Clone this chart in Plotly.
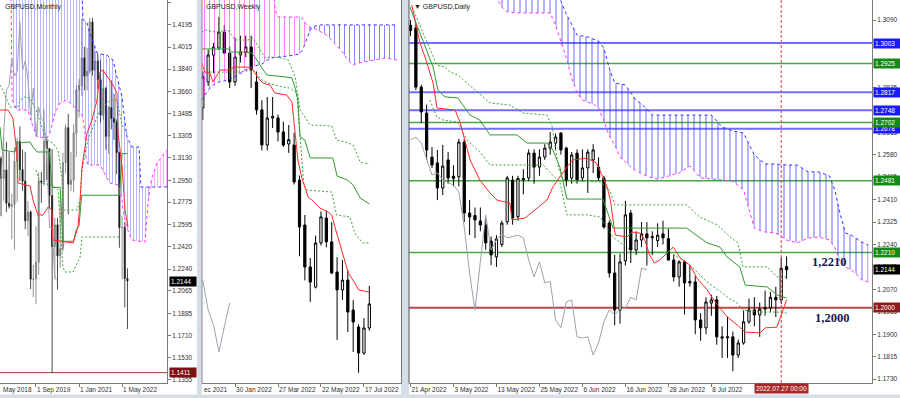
import numpy as np
import plotly.graph_objects as go

# ======================= DATA =======================
# ---- Monthly panel (x = month offset from Sep 2019) ----
mon_x = list(range(-14, 35))
mon_open = [1.3200,1.3125,1.2965,1.3033,1.2766,1.2743,1.2756,1.3102,1.3261,1.3035,1.2943,1.2626,1.2696,1.2159,
            1.2160,1.2293,1.2945,1.2936,1.3261,1.3203,1.2827,1.2420,1.2594,1.2345,1.2403,1.3091,1.3371,1.2918,
            1.2950,1.3327,1.3672,1.3707,1.3929,1.3784,1.3821,1.4216,1.3830,1.3904,1.3755,1.3471,1.3685,1.3301,
            1.3532,1.3445,1.3415,1.3172,1.2572,1.2574,1.2165]
mon_high = [1.3363,1.3140,1.3298,1.3258,1.3175,1.2840,1.3215,1.3287,1.3381,1.3196,1.3177,1.2783,1.2709,1.2273,
            1.2582,1.3013,1.3015,1.3515,1.3285,1.3210,1.3200,1.2648,1.2648,1.2813,1.3170,1.3395,1.3482,1.3177,
            1.3398,1.3704,1.3759,1.4241,1.4017,1.4009,1.4250,1.4249,1.3984,1.3958,1.3913,1.3834,1.3698,1.3546,
            1.3749,1.3643,1.3437,1.3180,1.2666,1.2617,1.2246]
mon_low = [1.2958,1.2662,1.2786,1.2696,1.2723,1.2477,1.2395,1.2773,1.2945,1.2866,1.2559,1.2506,1.2080,1.2015,
           1.1958,1.2194,1.2769,1.2905,1.2953,1.2725,1.1409,1.2165,1.2076,1.2252,1.2380,1.3005,1.2676,1.2862,
           1.2855,1.3135,1.3451,1.3622,1.3670,1.3668,1.3800,1.3787,1.3572,1.3680,1.3411,1.3434,1.3194,1.3161,
           1.3358,1.3272,1.3000,1.2410,1.2155,1.1933,1.1760]
mon_close = [1.3125,1.2965,1.3033,1.2766,1.2743,1.2756,1.3102,1.3261,1.3035,1.2943,1.2626,1.2696,1.2159,1.2160,
             1.2293,1.2945,1.2936,1.3261,1.3203,1.2827,1.2420,1.2594,1.2345,1.2403,1.3091,1.3371,1.2918,1.2950,
             1.3327,1.3672,1.3707,1.3929,1.3784,1.3821,1.4216,1.3830,1.3904,1.3755,1.3471,1.3685,1.3301,1.3532,
             1.3445,1.3415,1.3172,1.2572,1.2574,1.2165,1.2144]
mon_tenkan_x = [-13.4,-10.4,-8.6,-7.1,-6.7,-2.2,-1.1,0.7,2.6,4.5,5.9,6.3,13.8,15.6,16.4,17.1,19.0,20.8,22.7,23.8,24.9,28.6,30.1,30.5,32.0,33.1,34.2]
mon_tenkan_y = [1.3512,1.3512,1.3448,1.3168,1.2928,1.2904,1.2792,1.2672,1.2672,1.2736,1.2712,1.2472,1.2448,1.2576,1.2792,1.3056,1.3328,1.3432,1.3592,1.3816,1.3832,1.3712,1.3648,1.3328,1.3056,1.2712,1.2576]
mon_kijun_x = [-13.4,-12.6,-7.8,-7.1,-2.2,-1.1,0.4,5.0,6.0,9.0,10.0,14.0,15.0,16.0,17.0,31.0,32.0,34.0]
mon_kijun_y = [1.3376,1.3192,1.3176,1.3248,1.3256,1.3216,1.3176,1.3176,1.2893,1.2893,1.2462,1.2462,1.2557,1.2584,1.2830,1.2830,1.3163,1.3163]
mon_dash1_x = [-13.4,-12.3,-9.7,-6.7,-5.9,-4.1,-2.2,0,2.2,4.1,6.3,8.2,9.7,10.0,15.2,16.4,17.1,19.3,23.8,27.5,30.1,32.0,34.2]
mon_dash1_y = [1.3712,1.3672,1.3536,1.3536,1.3592,1.3616,1.3608,1.3512,1.3376,1.3272,1.3248,1.3192,1.2952,1.2712,1.2712,1.2792,1.3032,1.3272,1.3512,1.3592,1.3592,1.3392,1.3312]
mon_dash2_x = [0,1.5,5.9,8.2,9.7,10.0,10.8,13.8,16.4,17.1,31.2]
mon_dash2_y = [1.3032,1.2928,1.2912,1.2872,1.2368,1.2256,1.2216,1.2216,1.2336,1.2496,1.2496]
mon_chikou_x = list(range(-14, 9))
mon_chikou_y = [1.2918,1.2950,1.3327,1.3672,1.3707,1.3929,1.3784,1.3821,1.4216,1.3830,1.3904,1.3755,1.3471,
                1.3685,1.3301,1.3532,1.3445,1.3415,1.3172,1.2572,1.2574,1.2165,1.2144]
mon_cloud_x = [-9.3,-8.9,-7.1,-3.0,-1.1,0.4,4.1,5.2,7.1,8.9,11.5,12.6,15.2,16.4,17.1,17.5,18.2,18.6,19.0,19.3,
               22.7,23.8,26.4,27.5,28.6,30.1,30.5,32.0,32.3,33.1,33.8,35.7,38.3,39.0,40.5,41.6,42.4,43.1,45.0,48.7]
mon_span_a = [1.4552,1.3592,1.3512,1.3512,1.3376,1.3296,1.3288,1.3328,1.3488,1.3568,1.3592,1.3568,1.3512,1.3496,
              1.3472,1.3432,1.3328,1.3136,1.3096,1.3072,1.3072,1.3072,1.2968,1.2928,1.2920,1.2912,1.2912,1.2792,
              1.2712,1.2632,1.2568,1.2472,1.2464,1.2464,1.2456,1.2752,1.2896,1.2968,1.3088,1.3192]
mon_span_b = [1.4552,1.4552,1.4552,1.4552,1.4552,1.4552,1.4552,1.4552,1.4552,1.4552,1.4552,1.4552,1.4552,1.4552,
              1.4432,1.4232,1.4224,1.4216,1.4208,1.4176,1.3968,1.3960,1.3952,1.3928,1.3912,1.3776,1.3744,1.3616,
              1.3552,1.3392,1.3296,1.3216,1.3216,1.2896,1.2896,1.2896,1.2896,1.2896,1.2896,1.2896]
mon_xticks = [0, 16, 32]
mon_xlabels = ["1 Sep 2019", "1 Jan 2021", "1 May 2022"]
mon_yticks = [1.4370,1.4195,1.4015,1.3840,1.3660,1.3485,1.3305,1.3130,1.2950,1.2775,1.2595,1.2420,
              1.2240,1.2065,1.1885,1.1710,1.1530,1.1355]
mon_level = 1.1411
mon_last = 1.2144

# ---- Weekly panel (x = week offset from 30 Jan 2022) ----
wk_x = list(range(-6, 26))
wk_open = [1.3237,1.3382,1.3532,1.3572,1.3660,1.3543,1.3382,1.3532,1.3549,1.3577,1.3382,1.3226,1.3030,1.3181,
           1.3181,1.3103,1.3036,1.3030,1.2835,1.2584,1.2350,1.2238,1.2484,1.2623,1.2490,1.2322,1.2222,1.2277,
           1.2110,1.2015,1.1870,1.2010]
wk_high = [1.3440,1.3560,1.3600,1.3744,1.3700,1.3580,1.3630,1.3640,1.3640,1.3640,1.3440,1.3280,1.3298,1.3298,
           1.3200,1.3160,1.3142,1.3100,1.2860,1.2640,1.2400,1.2525,1.2660,1.2665,1.2600,1.2405,1.2389,1.2330,
           1.2165,1.2030,1.2065,1.2245]
wk_low = [1.3170,1.3360,1.3430,1.3560,1.3540,1.3348,1.3360,1.3490,1.3520,1.3348,1.3200,1.3000,1.3000,1.3125,
          1.3050,1.3020,1.2986,1.2810,1.2410,1.2275,1.2155,1.2230,1.2470,1.2460,1.2310,1.1943,1.2166,1.1987,
          1.1876,1.1760,1.1860,1.1995]
wk_close = [1.3410,1.3532,1.3577,1.3660,1.3543,1.3382,1.3521,1.3549,1.3577,1.3449,1.3226,1.3030,1.3181,1.3190,
            1.3103,1.3030,1.3060,1.2824,1.2573,1.2350,1.2266,1.2484,1.2629,1.2490,1.2316,1.2222,1.2277,1.2099,
            1.2043,1.1870,1.2010,1.2144]
wk_tenkan_x = [-6.2,-5.6,-4.7,-4.1,-2.8,-1.3,0,1.9,3.1,4.3,5.2,6.5,7.4,9.6,10.6,10.8,11.2,11.7,12.4,13.6,14.3,15.8,17.3,18.0,18.6,19.9,21.1,22.3,23.0,25.0]
wk_tenkan_y = [1.3488,1.3437,1.3432,1.3382,1.3449,1.3449,1.3465,1.3465,1.3460,1.3404,1.3376,1.3365,1.3320,1.3309,1.3270,1.3209,1.3075,1.2947,1.2852,1.2740,1.2724,1.2679,1.2657,1.2640,1.2573,1.2445,1.2316,1.2261,1.2222,1.2210]
wk_kijun_x = [-6.2,-1.3,-0.6,1.9,3.1,3.7,5.0,5.9,9.3,10.6,11.2,11.7,12.1,13.0,14.0,18.2,19.0,20.9,22.0,23.3,25.0]
wk_kijun_y = [1.3566,1.3566,1.3549,1.3549,1.3543,1.3521,1.3460,1.3421,1.3410,1.3404,1.3348,1.3281,1.3075,1.3058,1.2958,1.2958,1.2857,1.2835,1.2807,1.2735,1.2701]
wk_dash1_x = [-6.2,-5.6,-3.7,-1.3,0,2.4,3.4,5.6,6.5,8.7,9.9,11.2,12.1,14.0,18.0,18.9,20.5,22.0,23.3,25.0]
wk_dash1_y = [1.3660,1.3672,1.3660,1.3672,1.3616,1.3616,1.3627,1.3516,1.3521,1.3516,1.3504,1.3410,1.3226,1.3142,1.3136,1.3058,1.3047,1.3030,1.2935,1.2924]
wk_dash2_x = [-6.2,0.6,3.4,5.0,6.1,8.8,10.2,11.5,12.3,12.8,13.4,18.0,18.9,21.4,22.3,23.8,25.0]
wk_dash2_y = [1.3437,1.3437,1.3449,1.3393,1.3376,1.3354,1.3348,1.3320,1.3002,1.2807,1.2779,1.2768,1.2640,1.2629,1.2539,1.2484,1.2484]
wk_chikou_x = [-6, -5, -4, -3, -2, -1]
wk_chikou_y = [1.2277, 1.2110, 1.2026, 1.1876, 1.2015, 1.2149]
wk_cloud_x = [-6.2,-5,-4,-3,-2,-1,0,2,3,5,6,7,7.5,8,10,12,12.5,13.5,14.2,15,16,17,18,20,21,22,23,24,26,28,30.3]
wk_span_a = [1.3951,1.3951,1.3951,1.3951,1.3951,1.3951,1.3951,1.3951,1.3951,1.3951,1.3951,1.3951,1.3780,1.3744,
             1.3744,1.3744,1.3739,1.3694,1.3683,1.3677,1.3661,1.3644,1.3616,1.3549,1.3504,1.3477,1.3488,1.3493,
             1.3504,1.3516,1.3504]
wk_span_b = [1.3281,1.3337,1.3365,1.3382,1.3387,1.3398,1.3410,1.3449,1.3465,1.3482,1.3504,1.3516,1.3521,1.3521,
             1.3527,1.3538,1.3555,1.3633,1.3683,1.3694,1.3700,1.3700,1.3700,1.3700,1.3700,1.3700,1.3700,1.3700,
             1.3700,1.3700,1.3700]
wk_xticks = [0, 8, 16, 24]
wk_xlabels = ["30 Jan 2022", "27 Mar 2022", "22 May 2022", "17 Jul 2022"]

# ---- Daily panel (x = trading-day index from 21 Apr 2022) ----
d_x = list(range(0, 71))
d_ohlc = [
    (1.3070,1.3090,1.3030,1.3050),(1.3060,1.3075,1.2825,1.2836),(1.2836,1.2845,1.2700,1.2742),(1.2738,1.2770,1.2560,1.2598),
    (1.2571,1.2609,1.2530,1.2541),(1.2549,1.2598,1.2408,1.2454),(1.2454,1.2617,1.2427,1.2537),(1.2560,1.2590,1.2470,1.2492),
    (1.2499,1.2540,1.2460,1.2490),(1.2496,1.2640,1.2460,1.2628),(1.2628,1.2640,1.2325,1.2359),(1.2359,1.2408,1.2276,1.2344),
    (1.2350,1.2380,1.2264,1.2333),(1.2329,1.2380,1.2290,1.2314),(1.2314,1.2340,1.2220,1.2246),(1.2253,1.2270,1.2162,1.2200),
    (1.2193,1.2275,1.2155,1.2261),(1.2240,1.2330,1.2230,1.2321),(1.2326,1.2500,1.2315,1.2492),(1.2484,1.2500,1.2315,1.2340),
    (1.2345,1.2500,1.2330,1.2490),(1.2490,1.2525,1.2430,1.2485),(1.2492,1.2600,1.2480,1.2586),(1.2586,1.2600,1.2470,1.2533),
    (1.2533,1.2600,1.2500,1.2571),(1.2571,1.2620,1.2560,1.2605),(1.2605,1.2666,1.2580,1.2628),(1.2624,1.2660,1.2600,1.2647),
    (1.2662,1.2665,1.2580,1.2598),(1.2605,1.2610,1.2460,1.2484),(1.2492,1.2590,1.2470,1.2579),(1.2586,1.2600,1.2470,1.2484),
    (1.2492,1.2600,1.2480,1.2530),(1.2530,1.2600,1.2435,1.2590),(1.2560,1.2620,1.2510,1.2598),(1.2533,1.2570,1.2480,1.2492),
    (1.2492,1.2500,1.2300,1.2306),(1.2321,1.2330,1.2115,1.2132),(1.2132,1.2200,1.1934,1.1992),(1.1992,1.2205,1.1940,1.2174),
    (1.2178,1.2405,1.2160,1.2352),(1.2359,1.2370,1.2170,1.2219),(1.2219,1.2290,1.2200,1.2257),(1.2257,1.2325,1.2230,1.2280),
    (1.2280,1.2325,1.2160,1.2265),(1.2265,1.2290,1.2200,1.2270),(1.2255,1.2320,1.2230,1.2275),(1.2280,1.2330,1.2240,1.2265),
    (1.2262,1.2300,1.2180,1.2181),(1.2181,1.2200,1.2100,1.2117),(1.2117,1.2180,1.2080,1.2174),(1.2174,1.2180,1.1975,1.2094),
    (1.2094,1.2160,1.2080,1.2100),(1.2098,1.2120,1.1900,1.1954),(1.1954,1.1980,1.1875,1.1924),(1.1924,1.2040,1.1900,1.2022),
    (1.2018,1.2050,1.1970,1.2030),(1.2030,1.2045,1.1860,1.1890),(1.1890,1.1930,1.1810,1.1886),(1.1886,1.1966,1.1810,1.1890),
    (1.1890,1.1910,1.1760,1.1821),(1.1821,1.1880,1.1810,1.1867),(1.1867,1.1990,1.1860,1.1947),(1.1947,1.2035,1.1940,1.1992),
    (1.1992,1.2040,1.1930,1.1973),(1.1973,1.2020,1.1890,1.1995),(1.1995,1.2065,1.1970,1.2000),(1.2000,1.2060,1.1985,1.2040),
    (1.2040,1.2080,1.1965,1.2030),(1.2030,1.2190,1.2015,1.2150),(1.2156,1.2195,1.2110,1.2144)]
d_open = [r[0] for r in d_ohlc]
d_high = [r[1] for r in d_ohlc]
d_low = [r[2] for r in d_ohlc]
d_close = [r[3] for r in d_ohlc]
d_tenkan_x = [0.22,1.77,2.7,4.2,4.93,8.3,9.2,10.1,11.1,12.9,14.8,16.1,18.5,18.9,21.3,25.4,26.5,29.1,30.2,32.8,34.6,35.8,36.6,37.2,38.1,40.3,41.2,42.7,43.6,44.5,45.4,46.4,47.7,48.9,50.2,52.0,53.3,55.2,57.1,59.0,60.8,62.3,65.1,66.0,68.2,69.1,70.0]
d_tenkan_y = [1.3147,1.3003,1.2950,1.2852,1.2757,1.2749,1.2704,1.2636,1.2560,1.2484,1.2435,1.2408,1.2397,1.2333,1.2340,1.2408,1.2458,1.2533,1.2560,1.2567,1.2549,1.2496,1.2458,1.2408,1.2276,1.2268,1.2287,1.2283,1.2257,1.2200,1.2170,1.2181,1.2208,1.2230,1.2189,1.2162,1.2113,1.2068,1.2011,1.1965,1.1935,1.1908,1.1905,1.1924,1.1927,1.1980,1.2030]
d_kijun_x = [-0.1,4.2,5.1,6.4,8.8,11.1,12.9,14.8,19.8,21.7,25.4,26.5,27.8,28.8,29.1,35.8,37.7,51.4,55.2,57.6,58.9,61.3,62.3,66.4,68.2,70.0]
d_kijun_y = [1.3139,1.2912,1.2825,1.2799,1.2795,1.2730,1.2711,1.2655,1.2655,1.2624,1.2624,1.2598,1.2533,1.2446,1.2412,1.2412,1.2302,1.2302,1.2246,1.2230,1.2193,1.2155,1.2086,1.2079,1.2049,1.2037]
d_dash1_x = [0.3,2.3,4.9,6.4,7.4,8.8,12.4,14.8,18.5,21.0,25.4,26.4,27.5,28.4,35.3,37.1,38.0,51.4,53.8,57.1,59.5,60.9,61.9,66.4,68.2,70.0]
d_dash1_y = [1.3139,1.3041,1.2920,1.2912,1.2893,1.2882,1.2818,1.2776,1.2768,1.2738,1.2730,1.2685,1.2533,1.2484,1.2477,1.2446,1.2390,1.2390,1.2344,1.2314,1.2268,1.2246,1.2155,1.2155,1.2117,1.2117]
d_dash2_x = [3.6,4.9,6.1,8.8,10.5,12.9,14.8,24.7,26.4,27.8,29.1,32.8,35.3,37.7,41.4,48.3,52.0,55.2,59.0,60.8,61.9,65.1,68.2,70.0]
d_dash2_y = [1.2787,1.2723,1.2711,1.2704,1.2636,1.2590,1.2541,1.2541,1.2503,1.2477,1.2352,1.2352,1.2344,1.2268,1.2211,1.2211,1.2162,1.2098,1.2041,1.2018,1.1992,1.1984,1.1984,1.1980]
d_chikou_x = list(range(0, 45))
d_chikou_y = [1.2636,1.2647,1.2624,1.2560,1.2503,1.2511,1.2484,1.2475,1.2465,1.2439,1.2306,1.2132,1.1992,1.2174,
              1.2352,1.2219,1.2257,1.2280,1.2265,1.2270,1.2275,1.2265,1.2181,1.2117,1.2174,1.2094,1.2100,1.1954,
              1.1924,1.2022,1.2030,1.1890,1.1886,1.1890,1.1821,1.1867,1.1947,1.1992,1.1973,1.1995,1.2000,1.2040,
              1.2030,1.2150,1.2144]
d_cloud_x = [15,16,17,18,20,22,24,25,26,27,28,29,30,31,32,33,34,35,36,37,38,39,40,41,42,43,44,45,46,48,50,52,
             54,56,58,60,62,64,66,68,70,72,74,76,78,79,80,81,82,83,84,85.2]
d_span_a = [1.3223,1.3177,1.3139,1.3121,1.3117,1.3117,1.3117,1.3117,1.3117,1.3071,1.3007,1.2946,1.2871,1.2814,
            1.2787,1.2780,1.2772,1.2757,1.2708,1.2651,1.2617,1.2571,1.2552,1.2533,1.2518,1.2507,1.2499,1.2492,
            1.2488,1.2499,1.2511,1.2537,1.2492,1.2488,1.2484,1.2480,1.2446,1.2302,1.2287,1.2283,1.2257,1.2246,
            1.2264,1.2268,1.2257,1.2227,1.2174,1.2155,1.2143,1.2128,1.2105,1.2098]
d_span_b = [1.3250,1.3250,1.3250,1.3250,1.3250,1.3250,1.3250,1.3250,1.3250,1.3200,1.3162,1.3113,1.3071,1.3033,
            1.3030,1.3026,1.3018,1.3011,1.2984,1.2908,1.2852,1.2848,1.2844,1.2814,1.2787,1.2772,1.2753,1.2730,
            1.2730,1.2730,1.2730,1.2730,1.2730,1.2730,1.2685,1.2670,1.2662,1.2579,1.2545,1.2545,1.2541,1.2541,
            1.2515,1.2515,1.2499,1.2446,1.2352,1.2283,1.2276,1.2261,1.2249,1.2238]
d_xticks = [0, 8, 16, 24, 32, 40, 48, 56]
d_xlabels = ["21 Apr 2022", "3 May 2022", "13 May 2022", "25 May 2022", "6 Jun 2022", "16 Jun 2022",
             "28 Jun 2022", "8 Jul 2022"]
d_yticks = [1.3090,1.2835,1.2665,1.2580,1.2495,1.2410,1.2325,1.2240,1.2155,1.2070,
            1.1985,1.1900,1.1815,1.1730]
d_levels_blue = [1.3003, 1.2817, 1.2748, 1.2678]
d_levels_green = [1.2925, 1.2702, 1.2481, 1.2210]
d_level_red = 1.2000
d_last = 1.2144
d_cursor_x = 69
d_cursor_label = "2022.07.27 00:00"
big_labels = [("1,2210", 1.2210), ("1,2000", 1.2000)]

# ======================= FIGURE =======================
FW, FH = 900, 398
def PX(x):
    return x / FW
def PY(y):
    return 1 - y / FH

Y_DOM = [PY(383), 1.0]
FONT = "Liberation Sans, Arial, sans-serif"
AX_FONT = dict(family=FONT, size=6.5, color="#303030")

BLUE = "#2f2fff"
MAG = "#ff30ff"
RED = "#ff2a2a"
GREEN = "#2f9a2f"
DGREEN = "#3aa33a"
GREY = "#9ca3ad"

fig = go.Figure()


def add_cloud(xs, a, b, xa, ya, size):
    a = np.asarray(a, float)
    b = np.asarray(b, float)
    lo = np.minimum(a, b)
    common = dict(xaxis=xa, yaxis=ya, mode="lines", hoverinfo="skip", showlegend=False)
    fig.add_trace(go.Scatter(x=xs, y=lo, line=dict(width=0, color="rgba(0,0,0,0)"), **common))
    fig.add_trace(go.Scatter(x=xs, y=b, line=dict(width=0, color="rgba(0,0,0,0)"), fill="tonexty",
                             fillcolor="rgba(0,0,0,0)",
                             fillpattern=dict(shape="|", fgcolor=BLUE, size=size, solidity=0.2, fgopacity=0.6),
                             **common))
    fig.add_trace(go.Scatter(x=xs, y=lo, line=dict(width=0, color="rgba(0,0,0,0)"), **common))
    fig.add_trace(go.Scatter(x=xs, y=a, line=dict(width=0, color="rgba(0,0,0,0)"), fill="tonexty",
                             fillcolor="rgba(0,0,0,0)",
                             fillpattern=dict(shape="|", fgcolor=MAG, size=size, solidity=0.2, fgopacity=0.6),
                             **common))
    fig.add_trace(go.Scatter(x=xs, y=b, line=dict(width=1, color=BLUE, dash="dot"), **common))
    fig.add_trace(go.Scatter(x=xs, y=a, line=dict(width=1, color=MAG, dash="dot"), **common))


def add_line(x, y, xa, ya, color, dash=None, width=1):
    fig.add_trace(go.Scatter(x=x, y=y, xaxis=xa, yaxis=ya, mode="lines", hoverinfo="skip", showlegend=False,
                             line=dict(color=color, width=width, dash=dash)))


def add_candles(x, o, h, l, c, xa, ya, inc_fill, inc_line, dec_fill, dec_line, lw=1):
    fig.add_trace(go.Candlestick(x=x, open=o, high=h, low=l, close=c, xaxis=xa, yaxis=ya,
                                 increasing=dict(fillcolor=inc_fill, line=dict(color=inc_line, width=lw)),
                                 decreasing=dict(fillcolor=dec_fill, line=dict(color=dec_line, width=lw)),
                                 whiskerwidth=0, hoverinfo="skip", showlegend=False))


# ---- monthly ----
add_cloud(mon_cloud_x, mon_span_a, mon_span_b, "x", "y", 3)
add_line(mon_chikou_x, mon_chikou_y, "x", "y", GREY)
add_line(mon_dash1_x, mon_dash1_y, "x", "y", DGREEN, "2px,2px")
add_line(mon_dash2_x, mon_dash2_y, "x", "y", DGREEN, "2px,2px")
add_line(mon_kijun_x, mon_kijun_y, "x", "y", GREEN)
add_line(mon_tenkan_x, mon_tenkan_y, "x", "y", RED)
add_candles(mon_x, mon_open, mon_high, mon_low, mon_close, "x", "y", "#a0a0a0", "#777777", "#000000", "#202020", 0.8)

# ---- weekly ----
add_cloud(wk_cloud_x, wk_span_a, wk_span_b, "x2", "y2", 5)
add_line(wk_chikou_x, wk_chikou_y, "x2", "y2", GREY)
add_line(wk_dash1_x, wk_dash1_y, "x2", "y2", DGREEN, "2px,2px")
add_line(wk_dash2_x, wk_dash2_y, "x2", "y2", DGREEN, "2px,2px")
add_line(wk_kijun_x, wk_kijun_y, "x2", "y2", GREEN)
add_line(wk_tenkan_x, wk_tenkan_y, "x2", "y2", RED)
add_candles(wk_x, wk_open, wk_high, wk_low, wk_close, "x2", "y2", "#ffffff", "#000000", "#000000", "#000000")

# ---- daily ----
add_cloud(d_cloud_x, d_span_a, d_span_b, "x3", "y3", 6)
add_line(d_chikou_x, d_chikou_y, "x3", "y3", GREY)
add_line(d_dash1_x, d_dash1_y, "x3", "y3", DGREEN, "2px,2px")
add_line(d_dash2_x, d_dash2_y, "x3", "y3", DGREEN, "2px,2px")
add_line(d_kijun_x, d_kijun_y, "x3", "y3", GREEN)
add_line(d_tenkan_x, d_tenkan_y, "x3", "y3", RED)
add_candles(d_x, d_open, d_high, d_low, d_close, "x3", "y3", "#ffffff", "#000000", "#000000", "#000000")


def xax(domain, rng, anchor, tickvals, ticktext):
    return dict(domain=domain, range=rng, anchor=anchor, tickvals=tickvals, ticktext=ticktext,
                ticklabelposition="outside right", ticks="outside", ticklen=3, tickcolor="#777777",
                tickangle=0, automargin=False,
                showline=True, linecolor="#7a7a7a", linewidth=1, showgrid=False, zeroline=False,
                tickfont=AX_FONT, rangeslider=dict(visible=False), fixedrange=True)


def yax(rng, anchor, tickvals, labels=True):
    return dict(domain=Y_DOM, range=rng, anchor=anchor, side="right", tickvals=tickvals, tickformat=".4f",
                ticks="outside" if labels else "", ticklen=3, tickcolor="#777777", showticklabels=labels,
                automargin=False,
                showline=True, linecolor="#7a7a7a", linewidth=1, showgrid=False, zeroline=False,
                tickfont=AX_FONT, fixedrange=True)


shapes = []
SEP = "#d5dde8"
for x0, x1 in [(197, 202), (401, 409)]:
    shapes.append(dict(type="rect", xref="paper", yref="paper", x0=PX(x0), x1=PX(x1), y0=0, y1=1,
                       fillcolor=SEP, line=dict(width=0), layer="below"))
shapes.append(dict(type="rect", xref="paper", yref="paper", x0=0, x1=1, y0=0, y1=PY(394.5),
                   fillcolor=SEP, line=dict(width=0), layer="below"))
shapes.append(dict(type="line", xref="paper", yref="paper", x0=PX(409), x1=PX(409), y0=Y_DOM[0], y1=1,
                   line=dict(color="#555555", width=1)))
shapes.append(dict(type="line", xref="paper", yref="paper", x0=PX(202), x1=PX(202), y0=Y_DOM[0], y1=1,
                   line=dict(color="#8a8a8a", width=1)))

shapes.append(dict(type="line", xref="x domain", yref="y", x0=0, x1=1, y0=mon_level, y1=mon_level,
                   line=dict(color="#a23a3a", width=1), layer="below"))
for lv in d_levels_blue:
    shapes.append(dict(type="line", xref="x3 domain", yref="y3", x0=0, x1=1, y0=lv, y1=lv,
                       line=dict(color="#6f6fff", width=2), layer="below"))
for lv in d_levels_green:
    shapes.append(dict(type="line", xref="x3 domain", yref="y3", x0=0, x1=1, y0=lv, y1=lv,
                       line=dict(color="#45a845", width=1.5), layer="below"))
shapes.append(dict(type="line", xref="x3 domain", yref="y3", x0=0, x1=1, y0=d_level_red, y1=d_level_red,
                   line=dict(color="#b84848", width=2), layer="below"))
shapes.append(dict(type="line", xref="x3", yref="paper", x0=d_cursor_x, x1=d_cursor_x, y0=Y_DOM[0], y1=1,
                   line=dict(color="#d04040", width=1, dash="3px,2px")))

annotations = []


def box(val, yref, xpx, bg):
    annotations.append(dict(x=PX(xpx), xref="paper", xanchor="left", y=val, yref=yref, yanchor="middle",
                            text=f"{val:.4f}", showarrow=False, bgcolor=bg, borderpad=1, width=24,
                            align="left", font=dict(family=FONT, size=6.5, color="white")))


box(mon_last, "y", 168.5, "#000000")
box(mon_level, "y", 168.5, "#7d1010")
for lv in d_levels_blue:
    box(lv, "y3", 873, "#1a1aff")
for lv in d_levels_green:
    box(lv, "y3", 873, "#148a14")
box(d_level_red, "y3", 873, "#8e1c1c")
box(d_last, "y3", 873, "#000000")

for txt, xpx in [("GBPUSD,Monthly", 3), ("GBPUSD,Weekly", 204), ("\u25bc GBPUSD,Daily", 412)]:
    annotations.append(dict(x=PX(xpx), xref="paper", xanchor="left", y=PY(1), yref="paper", yanchor="top",
                            text=txt, showarrow=False, font=dict(family=FONT, size=7, color="#202020")))

annotations.append(dict(x=PX(1), xref="paper", xanchor="left", y=PY(384), yref="paper", yanchor="top",
                        text="May 2018", showarrow=False, font=AX_FONT))
annotations.append(dict(x=PX(202), xref="paper", xanchor="left", y=PY(384), yref="paper", yanchor="top",
                        text="ec 2021", showarrow=False, font=AX_FONT))
annotations.append(dict(x=d_cursor_x, xref="x3", xanchor="center", y=PY(383), yref="paper", yanchor="top",
                        text=d_cursor_label, showarrow=False, bgcolor="#a82828", borderpad=1,
                        font=dict(family=FONT, size=6.5, color="white")))
for (txt, lv), xpx in zip(big_labels, [829, 832]):
    annotations.append(dict(x=PX(xpx), xref="paper", xanchor="center",
                            y=lv + (-0.0037 if lv > 1.21 else -0.0037), yref="y3", yanchor="middle",
                            text=f"<b>{txt}</b>", showarrow=False,
                            font=dict(family="Liberation Serif, Times New Roman, serif", size=12.5,
                                      color="#16164c")))

fig.update_layout(
    width=FW, height=FH, autosize=False,
    margin=dict(l=0, r=0, t=0, b=0, autoexpand=False),
    paper_bgcolor="white", plot_bgcolor="white",
    showlegend=False, hovermode=False, boxgap=0.4,
    xaxis=xax([0, PX(167)], [-13.38, 48.7], "y", mon_xticks, mon_xlabels),
    yaxis=yax([1.4392 - 383 / 1250, 1.4392], "x", mon_yticks),
    xaxis2=xax([PX(202), PX(401)], [-6.15, 30.9], "y2", wk_xticks, wk_xlabels),
    yaxis2=yax([1.3839 - 383 / 1793, 1.3839], "x2", [], labels=False),
    xaxis3=xax([PX(409), PX(872)], [-0.28, 85.9], "y3", d_xticks, d_xlabels),
    yaxis3=yax([1.3166 - 383 / 2640, 1.3166], "x3", d_yticks),
    shapes=shapes,
    annotations=annotations,
)

fig.write_html("out.html", config=dict(displayModeBar=False, staticPlot=True))
